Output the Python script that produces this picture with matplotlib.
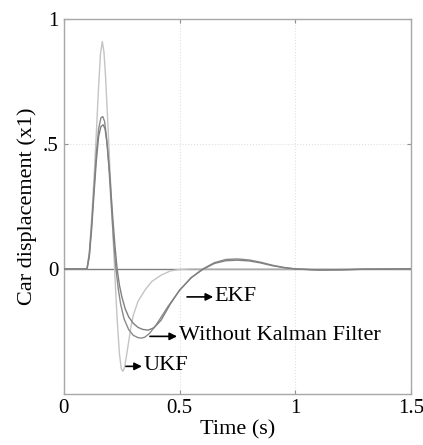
import numpy as np
import matplotlib
matplotlib.use('Agg')
import matplotlib.pyplot as plt

plt.rcParams['font.family'] = ['Liberation Serif', 'DejaVu Serif']

# UKF response (light curve)
t_ukf = [0, 0.10, 0.11, 0.12, 0.13, 0.14, 0.15, 0.158, 0.166, 0.173, 0.18,
         0.19, 0.20, 0.21, 0.22, 0.23, 0.24, 0.248, 0.255, 0.262, 0.27, 0.28,
         0.29, 0.30, 0.32, 0.35, 0.38, 0.42, 0.46, 0.50, 0.55, 1.5]
x_ukf = [0, 0, 0.07, 0.2, 0.36, 0.54, 0.73, 0.86, 0.91, 0.87, 0.77,
         0.58, 0.38, 0.18, -0.02, -0.2, -0.34, -0.4, -0.41, -0.395, -0.35, -0.29,
         -0.23, -0.185, -0.13, -0.085, -0.05, -0.025, -0.008, -0.002, 0, 0]

# without Kalman filter
t_nokf = [0, 0.10, 0.11, 0.12, 0.13, 0.14, 0.15, 0.16, 0.168, 0.176, 0.185,
          0.195, 0.205, 0.215, 0.225, 0.235, 0.245, 0.26, 0.28, 0.30, 0.32,
          0.336, 0.35, 0.37, 0.40, 0.45, 0.50, 0.55, 0.60, 0.65, 0.70, 0.75,
          0.80, 0.85, 0.90, 0.95, 1.0, 1.1, 1.2, 1.3, 1.5]
x_nokf = [0, 0, 0.06, 0.18, 0.32, 0.46, 0.56, 0.605, 0.61, 0.59, 0.52,
          0.4, 0.25, 0.11, 0.0, -0.08, -0.14, -0.2, -0.243, -0.266, -0.275,
          -0.277, -0.273, -0.258, -0.222, -0.15, -0.085, -0.035, 0.0, 0.025,
          0.038, 0.04, 0.036, 0.027, 0.015, 0.006, 0.0, -0.005, -0.004,
          -0.001, 0]

# EKF
t_ekf = [0, 0.10, 0.11, 0.12, 0.13, 0.14, 0.15, 0.16, 0.17, 0.178, 0.188,
         0.198, 0.21, 0.22, 0.23, 0.24, 0.25, 0.265, 0.28, 0.30, 0.32, 0.34,
         0.364, 0.39, 0.42, 0.46, 0.50, 0.55, 0.60, 0.65, 0.70, 0.75, 0.80,
         0.85, 0.90, 0.95, 1.0, 1.1, 1.2, 1.3, 1.5]
x_ekf = [0, 0, 0.05, 0.16, 0.3, 0.43, 0.53, 0.57, 0.577, 0.56, 0.49,
         0.38, 0.22, 0.1, 0.0, -0.065, -0.11, -0.16, -0.192, -0.218, -0.234,
         -0.242, -0.245, -0.235, -0.205, -0.14, -0.085, -0.035, -0.002, 0.022,
         0.033, 0.035, 0.032, 0.024, 0.013, 0.005, 0.0, -0.004, -0.003,
         -0.001, 0]

fig = plt.figure(figsize=(4.23, 4.45), dpi=100)
ax = fig.add_axes([0.151, 0.115, 0.821, 0.842])

ax.axhline(0, color='#808080', lw=1.0, zorder=2)
ax.plot(t_ukf, x_ukf, color='#c4c4c4', lw=1.0, zorder=2)
ax.plot(t_nokf, x_nokf, color='#8a8a8a', lw=1.0, zorder=3)
ax.plot(t_ekf, x_ekf, color='#808080', lw=1.0, zorder=3)

# labels with arrows
ap = dict(arrowstyle='-|>', color='black', lw=1.2, mutation_scale=11,
          shrinkA=0, shrinkB=0)
ax.annotate('', xy=(0.645, -0.112), xytext=(0.532, -0.112), arrowprops=ap)
ax.text(0.652, -0.112, 'EKF', fontsize=16, va='center', ha='left')
ax.annotate('', xy=(0.489, -0.27), xytext=(0.372, -0.27), arrowprops=ap)
ax.text(0.496, -0.267, 'Without Kalman Filter', fontsize=16, va='center', ha='left')
ax.annotate('', xy=(0.337, -0.39), xytext=(0.268, -0.39), arrowprops=ap)
ax.text(0.345, -0.386, 'UKF', fontsize=16, va='center', ha='left')

ax.set_xlim(0, 1.5)
ax.set_ylim(-0.5, 1)
ax.set_xticks([0, 0.5, 1, 1.5])
ax.set_xticklabels(['0', '0.5', '1', '1.5'])
ax.set_yticks([0, 0.5, 1])
ax.set_yticklabels(['0', '.5', '1'])
ax.tick_params(direction='in', length=3, top=True, right=True, labelsize=15,
               color='#909090', pad=4)
ax.grid(True, ls=':', color='#e0e0e0', lw=0.8)
for s in ax.spines.values():
    s.set_color('#a8a8a8')
    s.set_linewidth(1.0)

ax.set_xlabel('Time (s)', fontsize=16, labelpad=1)
ax.set_ylabel('Car displacement (x1)', fontsize=16, labelpad=4)

fig.savefig('out.png', dpi=100)
